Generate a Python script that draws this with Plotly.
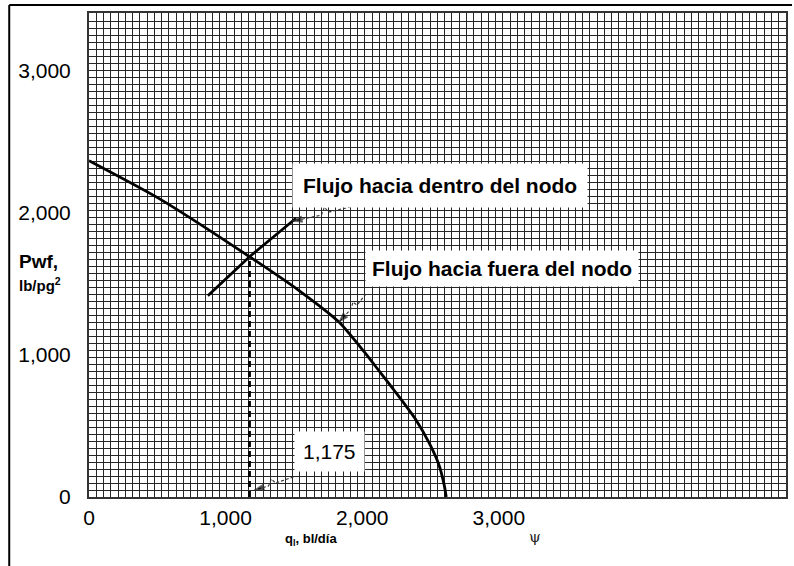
import numpy as np
import plotly.graph_objects as go

# ---- data -------------------------------------------------------------
# Outflow from the node (reservoir IPR curve): q [bl/día], Pwf [lb/pg2]
ipr_q = [0, 520, 1175, 1540, 1830, 2015, 2125, 2250, 2395, 2490, 2560, 2600, 2615]
ipr_p = [2365, 2095, 1690, 1450, 1230, 1020, 885, 730, 540, 380, 230, 85, 0]

# Inflow to the node (well/tubing curve)
inflow_q = [870, 1175, 1515]
inflow_p = [1415, 1690, 1960]

# Operating point
q_op = 1175
p_op = 1690

x_tick_vals = [0, 1000, 2000, 3000]
x_tick_text = ["0", "1,000", "2,000", "3,000"]
y_tick_vals = [0, 1000, 2000, 3000]
y_tick_text = ["0", "1,000", "2,000", "3,000"]

# ---- layout geometry (pixels) -----------------------------------------
W, H = 794, 566
L, T, R, B = 89, 13, 788, 497
PX_PER_Q = 0.137      # horizontal pixels per bl/día
PX_PER_P = 0.1422     # vertical pixels per lb/pg2
XMAX = (R - L) / PX_PER_Q
YMAX = (B - T) / PX_PER_P
CELL_X = 7.28 / PX_PER_Q   # graph-paper cell size in data units
CELL_Y = 7.0 / PX_PER_P

FONT = "Liberation Sans, Arial, sans-serif"


def paper_x(px):
    return (px - L) / (R - L)


def paper_y(py):
    return (B - py) / (B - T)


def leader(tip_q, tip_p, offsets):
    """Dashed leader from a label towards a point; offsets in pixels from the tip."""
    qs = [tip_q + dx / PX_PER_Q for dx, dy in offsets]
    ps = [tip_p - dy / PX_PER_P for dx, dy in offsets]
    return qs, ps


fig = go.Figure()

# vertical dashed line at the operating rate
fig.add_trace(go.Scatter(
    x=[q_op, q_op], y=[0, p_op], mode="lines",
    line=dict(color="black", width=2.8, dash="6px,4px"),
    hoverinfo="skip", showlegend=False))

# outflow curve
fig.add_trace(go.Scatter(
    x=ipr_q, y=ipr_p, mode="lines",
    line=dict(color="black", width=2.8, shape="spline", smoothing=0.6),
    hoverinfo="skip", showlegend=False))

# inflow curve
fig.add_trace(go.Scatter(
    x=inflow_q, y=inflow_p, mode="lines",
    line=dict(color="black", width=2.8),
    hoverinfo="skip", showlegend=False))

# leaders with arrowheads
tip_in_q = 1490
tip_in_p = float(np.interp(tip_in_q, inflow_q, inflow_p))
leaders = [
    leader(tip_in_q, tip_in_p, [(78, -19), (36, -9), (32, -14), (29, -6), (0, 0)]),
    leader(ipr_q[4], ipr_p[4], [(27, -28), (18, -17), (14, -20), (12, -13), (0, 0)]),
    leader(q_op + 5 / PX_PER_Q, 7 / PX_PER_P, [(39, -13), (21, -7), (17, -11), (14, -4), (0, 0)]),
]
for qs, ps in leaders:
    n = len(qs)
    fig.add_trace(go.Scatter(
        x=qs, y=ps, mode="lines+markers",
        line=dict(color="#333", width=1.1, dash="3px,2px"),
        marker=dict(symbol="arrow", angleref="previous", color="black",
                    size=[0] * (n - 1) + [10]),
        hoverinfo="skip", showlegend=False))

# ---- axes --------------------------------------------------------------
grid = dict(showgrid=True, gridcolor="#262626", gridwidth=1.4)
fig.update_xaxes(
    range=[0, XMAX], tickmode="array", tickvals=x_tick_vals, ticktext=x_tick_text,
    showgrid=False, zeroline=False, ticks="", ticklabelstandoff=1,
    tickfont=dict(family=FONT, size=21, color="black"),
    showline=True, mirror=True, linecolor="#333", linewidth=2,
    minor=dict(tickmode="linear", tick0=0, dtick=CELL_X, ticks="", **grid))
fig.update_yaxes(
    range=[0, YMAX], tickmode="array", tickvals=y_tick_vals, ticktext=y_tick_text,
    showgrid=False, zeroline=False, ticks="", ticklabelstandoff=12,
    tickfont=dict(family=FONT, size=21, color="black"),
    showline=True, mirror=True, linecolor="#333", linewidth=2,
    minor=dict(tickmode="linear", tick0=0, dtick=CELL_Y, ticks="", **grid))

# ---- text --------------------------------------------------------------
annotations = [
    dict(text="<b>Flujo hacia dentro del nodo</b>", x=paper_x(441), y=paper_y(185),
         font=dict(family=FONT, size=21, color="black"), bgcolor="white",
         borderpad=10),
    dict(text="<b>Flujo hacia fuera del nodo</b>", x=paper_x(366), y=paper_y(268),
         xanchor="left", font=dict(family=FONT, size=21, color="black"),
         bgcolor="white", borderpad=6),
    dict(text="1,175", x=paper_x(330), y=paper_y(472),
         font=dict(family=FONT, size=21, color="black"), bgcolor="white",
         borderpad=8),
    dict(text="<b>Pwf,</b>", x=paper_x(17), y=paper_y(261), xanchor="left",
         font=dict(family=FONT, size=19, color="black")),
    dict(text="<b>lb/pg<sup>2</sup></b>", x=paper_x(17), y=paper_y(284), xanchor="left",
         font=dict(family=FONT, size=15, color="black")),
    dict(text="<b>q<sub>l</sub>, bl/día</b>", x=paper_x(284), y=paper_y(529),
         xanchor="left", yanchor="top",
         font=dict(family=FONT, size=13, color="black")),
    dict(text="ψ", x=paper_x(536), y=paper_y(548),
         font=dict(family="DejaVu Serif, serif", size=15, color="#222")),
]
for a in annotations:
    a.update(xref="paper", yref="paper", showarrow=False)

# outer frame (top and left edges of the figure box)
shapes = [
    dict(type="line", xref="paper", yref="paper", x0=paper_x(9), x1=paper_x(794),
         y0=paper_y(5), y1=paper_y(5), line=dict(color="black", width=2)),
    dict(type="line", xref="paper", yref="paper", x0=paper_x(9), x1=paper_x(9),
         y0=paper_y(5), y1=paper_y(566), line=dict(color="black", width=2)),
]

fig.update_layout(
    width=W, height=H, autosize=False,
    margin=dict(l=L, r=W - R, t=T, b=H - B, pad=0),
    paper_bgcolor="white", plot_bgcolor="white",
    annotations=annotations, shapes=shapes,
    showlegend=False, hovermode=False,
)

fig.write_html("out.html")
